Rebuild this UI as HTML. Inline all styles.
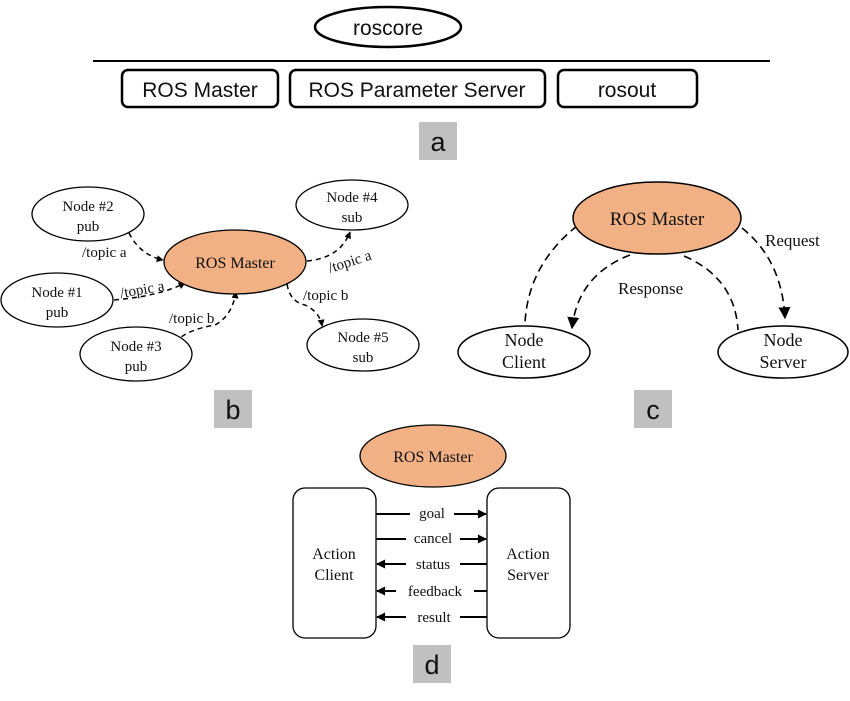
<!DOCTYPE html>
<html><head><meta charset="utf-8"><style>
html,body{margin:0;padding:0;background:#fff}
svg{display:block}
.ser{font-family:"Liberation Serif",serif;fill:#111}
.san{font-family:"Liberation Sans",sans-serif;fill:#111}
</style></head><body>
<svg width="850" height="701" viewBox="0 0 850 701" xmlns="http://www.w3.org/2000/svg">
<defs>
<marker id="ah" viewBox="0 0 10 10" refX="9" refY="5" markerWidth="7" markerHeight="7" orient="auto-start-reverse" markerUnits="userSpaceOnUse"><path d="M0,0 L10,5 L0,10 z" fill="#000"/></marker>
<marker id="ad" viewBox="0 0 10 10" refX="9" refY="5" markerWidth="10" markerHeight="9" orient="auto-start-reverse" markerUnits="userSpaceOnUse"><path d="M0,0 L10,5 L0,10 z" fill="#000"/></marker>
<marker id="ab" viewBox="0 0 10 10" refX="9" refY="5" markerWidth="12" markerHeight="12" orient="auto-start-reverse" markerUnits="userSpaceOnUse"><path d="M0,0 L10,5 L0,10 z" fill="#000"/></marker>
</defs>
<!-- a -->
<ellipse cx="388" cy="27" rx="73" ry="20" fill="#fff" stroke="#000" stroke-width="2.5"/>
<text x="388" y="35" text-anchor="middle" class="san" font-size="21">roscore</text>
<line x1="93" y1="61" x2="770" y2="61" stroke="#000" stroke-width="2"/>
<rect x="122" y="70" width="156" height="37" rx="6" fill="#fff" stroke="#000" stroke-width="2.5"/>
<text x="200" y="97" text-anchor="middle" class="san" font-size="21">ROS Master</text>
<rect x="290" y="70" width="255" height="37" rx="6" fill="#fff" stroke="#000" stroke-width="2.5"/>
<text x="417" y="97" text-anchor="middle" class="san" font-size="21">ROS Parameter Server</text>
<rect x="558" y="70" width="139" height="37" rx="6" fill="#fff" stroke="#000" stroke-width="2.5"/>
<text x="627" y="97" text-anchor="middle" class="san" font-size="21">rosout</text>
<rect x="419" y="122" width="38" height="38" fill="#c0c0c0"/>
<text x="438" y="151" text-anchor="middle" class="san" font-size="27">a</text>

<!-- b -->
<g stroke="#000" stroke-width="1.5" fill="none" stroke-dasharray="5,4">
<path d="M129 233 Q140 255 163 260" marker-end="url(#ah)"/>
<path d="M114 300 Q160 296 185 283" marker-end="url(#ah)"/>
<path d="M175 343 Q185 330 215 325 Q232 316 236 292" marker-end="url(#ah)"/>
<path d="M307 261 Q340 258 350 232" marker-end="url(#ah)"/>
<path d="M287 284 Q290 302 305 305 Q320 312 322 326" marker-end="url(#ah)"/>
</g>
<ellipse cx="88" cy="214" rx="56" ry="27" fill="#fff" stroke="#000" stroke-width="1.3"/>
<text x="88" y="211" text-anchor="middle" class="ser" font-size="15">Node #2</text>
<text x="88" y="231" text-anchor="middle" class="ser" font-size="15">pub</text>
<ellipse cx="235" cy="262" rx="71" ry="32" fill="#f2b184" stroke="#000" stroke-width="1.3"/>
<text x="235" y="268" text-anchor="middle" class="ser" font-size="16">ROS Master</text>
<ellipse cx="352" cy="205" rx="56" ry="25" fill="#fff" stroke="#000" stroke-width="1.3"/>
<text x="352" y="202" text-anchor="middle" class="ser" font-size="15">Node #4</text>
<text x="352" y="222" text-anchor="middle" class="ser" font-size="15">sub</text>
<ellipse cx="57" cy="300" rx="56" ry="27" fill="#fff" stroke="#000" stroke-width="1.3"/>
<text x="57" y="297" text-anchor="middle" class="ser" font-size="15">Node #1</text>
<text x="57" y="317" text-anchor="middle" class="ser" font-size="15">pub</text>
<ellipse cx="136" cy="354" rx="56" ry="27" fill="#fff" stroke="#000" stroke-width="1.3"/>
<text x="136" y="351" text-anchor="middle" class="ser" font-size="15">Node #3</text>
<text x="136" y="371" text-anchor="middle" class="ser" font-size="15">pub</text>
<ellipse cx="363" cy="345" rx="56" ry="26" fill="#fff" stroke="#000" stroke-width="1.3"/>
<text x="363" y="342" text-anchor="middle" class="ser" font-size="15">Node #5</text>
<text x="363" y="362" text-anchor="middle" class="ser" font-size="15">sub</text>
<text x="82" y="257" class="ser" font-size="15">/topic a</text>
<text x="121" y="298" class="ser" font-size="15" transform="rotate(-10 121 298)">/topic a</text>
<text x="169" y="323" class="ser" font-size="15">/topic b</text>
<text x="330" y="273" class="ser" font-size="15" transform="rotate(-18 330 273)">/topic a</text>
<text x="303" y="300" class="ser" font-size="15">/topic b</text>
<rect x="214" y="390" width="38" height="38" fill="#c0c0c0"/>
<text x="233" y="419" text-anchor="middle" class="san" font-size="27">b</text>

<!-- c -->
<g stroke="#000" stroke-width="1.6" fill="none" stroke-dasharray="8,5">
<path d="M577 226 Q528 265 525 323"/>
<path d="M630 255 Q578 275 572 328" marker-end="url(#ab)"/>
<path d="M742 228 Q782 260 785 318" marker-end="url(#ab)"/>
<path d="M684 256 Q735 278 738 330"/>
</g>
<ellipse cx="657" cy="218" rx="84" ry="36" fill="#f2b184" stroke="#000" stroke-width="1.5"/>
<text x="657" y="225" text-anchor="middle" class="ser" font-size="19">ROS Master</text>
<ellipse cx="524" cy="352" rx="66" ry="26" fill="#fff" stroke="#000" stroke-width="1.5"/>
<text x="524" y="346" text-anchor="middle" class="ser" font-size="18">Node</text>
<text x="524" y="368" text-anchor="middle" class="ser" font-size="18">Client</text>
<ellipse cx="783" cy="352" rx="65" ry="26" fill="#fff" stroke="#000" stroke-width="1.5"/>
<text x="783" y="346" text-anchor="middle" class="ser" font-size="18">Node</text>
<text x="783" y="368" text-anchor="middle" class="ser" font-size="18">Server</text>
<text x="765" y="246" class="ser" font-size="17">Request</text>
<text x="618" y="294" class="ser" font-size="17">Response</text>
<rect x="634" y="390" width="38" height="38" fill="#c0c0c0"/>
<text x="653" y="419" text-anchor="middle" class="san" font-size="27">c</text>

<!-- d -->
<ellipse cx="433" cy="456" rx="73" ry="31" fill="#f2b184" stroke="#000" stroke-width="1.3"/>
<text x="433" y="462" text-anchor="middle" class="ser" font-size="16">ROS Master</text>
<rect x="293" y="488" width="83" height="150" rx="12" fill="#fff" stroke="#000" stroke-width="1.3"/>
<rect x="487" y="488" width="83" height="150" rx="12" fill="#fff" stroke="#000" stroke-width="1.3"/>
<text x="334" y="559" text-anchor="middle" class="ser" font-size="16">Action</text>
<text x="334" y="580" text-anchor="middle" class="ser" font-size="16">Client</text>
<text x="528" y="559" text-anchor="middle" class="ser" font-size="16">Action</text>
<text x="528" y="580" text-anchor="middle" class="ser" font-size="16">Server</text>
<g stroke="#000" stroke-width="2">
<line x1="376" y1="514" x2="410" y2="514"/><line x1="454" y1="514" x2="486" y2="514" marker-end="url(#ad)"/>
<line x1="376" y1="539" x2="406" y2="539"/><line x1="460" y1="539" x2="486" y2="539" marker-end="url(#ad)"/>
<line x1="406" y1="564" x2="377" y2="564" marker-end="url(#ad)"/><line x1="460" y1="564" x2="487" y2="564"/>
<line x1="396" y1="591" x2="377" y2="591" marker-end="url(#ad)"/><line x1="474" y1="591" x2="487" y2="591"/>
<line x1="406" y1="617" x2="377" y2="617" marker-end="url(#ad)"/><line x1="460" y1="617" x2="487" y2="617"/>
</g>
<text x="432" y="518" text-anchor="middle" class="ser" font-size="15">goal</text>
<text x="433" y="543" text-anchor="middle" class="ser" font-size="15">cancel</text>
<text x="433" y="569" text-anchor="middle" class="ser" font-size="15">status</text>
<text x="435" y="596" text-anchor="middle" class="ser" font-size="15">feedback</text>
<text x="434" y="622" text-anchor="middle" class="ser" font-size="15">result</text>
<rect x="413" y="645" width="38" height="38" fill="#c0c0c0"/>
<text x="432" y="674" text-anchor="middle" class="san" font-size="27">d</text>
</svg>
</body></html>
